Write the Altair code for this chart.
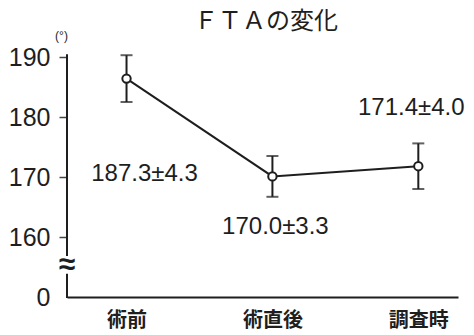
import altair as alt
import pandas as pd

# ---- data ----
categories = ["術前", "術直後", "調査時"]
means = [186.4, 170.1, 171.8]
errs = [3.9, 3.4, 3.8]
labels = ["187.3±4.3", "170.0±3.3", "171.4±4.0"]
y_ticks = [150, 160, 170, 180, 190]
title_text = "ＦＴＡの変化"
unit_text = "(°)"
break_symbol = "≈"
axis_segments_top = [190.3, 157.0]
axis_segments_bottom = [153.7, 150.0]
break_pos = 155.3

df = pd.DataFrame({
    "cat": categories,
    "mean": means,
    "err": errs,
    "label": labels,
})
df["lo"] = df["mean"] - df["err"]
df["hi"] = df["mean"] + df["err"]

INK = "#1e1e1e"
NUM_FONT = "Liberation Sans"
CJK_FONT = "Noto Sans CJK JP"

xscale = alt.Scale(type="point", domain=categories, padding=0.34, align=0.6)
yscale = alt.Scale(domain=[150, 190], nice=False, zero=False)

x_enc = alt.X(
    "cat:N",
    scale=xscale,
    sort=categories,
    axis=alt.Axis(
        title=None,
        labelAngle=0,
        labelFont=CJK_FONT,
        labelFontSize=20,
        labelFontWeight="bold",
        labelColor=INK,
        labelPadding=13,
        ticks=False,
        domain=True,
        domainColor=INK,
        domainWidth=2,
        grid=False,
    ),
)

y_axis = alt.Axis(
    values=y_ticks,
    labelExpr="datum.value == 150 ? '0' : datum.label",
    labelFont=NUM_FONT,
    labelFontSize=25,
    labelColor=INK,
    labelPadding=9,
    tickSize=8,
    tickWidth=1.5,
    tickColor="#444444",
    tickOpacity={"condition": {"test": "datum.value == 150", "value": 0}, "value": 1},
    domain=False,
    grid=False,
    title=unit_text,
    titleAngle=0,
    titleFont=NUM_FONT,
    titleFontSize=12,
    titleFontWeight="normal",
    titleColor=INK,
    titleAlign="center",
    titleBaseline="middle",
    titleX=-6,
    titleY=-22,
)

base = alt.Chart(df)

line = base.mark_line(color=INK, strokeWidth=2).encode(
    x=x_enc,
    y=alt.Y("mean:Q", scale=yscale, axis=y_axis),
)

err_rule = base.mark_rule(color=INK, strokeWidth=2).encode(
    x=alt.X("cat:N", scale=xscale, sort=categories),
    y=alt.Y("lo:Q", scale=yscale),
    y2="hi:Q",
)

cap_hi = base.mark_tick(color=INK, size=12, thickness=2, orient="horizontal").encode(
    x=alt.X("cat:N", scale=xscale, sort=categories),
    y=alt.Y("hi:Q", scale=yscale),
)
cap_lo = base.mark_tick(color=INK, size=12, thickness=2, orient="horizontal").encode(
    x=alt.X("cat:N", scale=xscale, sort=categories),
    y=alt.Y("lo:Q", scale=yscale),
)

points = base.mark_point(
    shape="circle", filled=True, fill="white", stroke=INK, strokeWidth=2, size=70, opacity=1
).encode(
    x=alt.X("cat:N", scale=xscale, sort=categories),
    y=alt.Y("mean:Q", scale=yscale),
)

label_offsets = [(18, 95), (3, 51), (-7, -58)]
text_layers = []
for cat, (dx, dy) in zip(categories, label_offsets):
    text_layers.append(
        base.transform_filter(alt.datum.cat == cat)
        .mark_text(font=NUM_FONT, fontSize=24, color=INK, dx=dx, dy=dy,
                   align="center", baseline="middle")
        .encode(
            x=alt.X("cat:N", scale=xscale, sort=categories),
            y=alt.Y("mean:Q", scale=yscale),
            text="label:N",
        )
    )

seg_df = pd.DataFrame({
    "y1": [axis_segments_top[0], axis_segments_bottom[0]],
    "y2": [axis_segments_top[1], axis_segments_bottom[1]],
})
axis_line = alt.Chart(seg_df).mark_rule(color=INK, strokeWidth=2, strokeCap="square").encode(
    x=alt.value(0),
    y=alt.Y("y1:Q", scale=yscale),
    y2="y2:Q",
)

brk = alt.Chart(pd.DataFrame({"y": [break_pos], "t": [break_symbol]})).mark_text(
    font=NUM_FONT, fontSize=30, fontWeight="bold", color=INK, align="center", baseline="middle"
).encode(
    x=alt.value(0),
    y=alt.Y("y:Q", scale=yscale),
    text="t:N",
)

title = alt.Chart(pd.DataFrame({"t": [title_text]})).mark_text(
    font=CJK_FONT, fontSize=24, color=INK, align="center", baseline="middle"
).encode(
    x=alt.value(199),
    y=alt.value(-35),
    text="t:N",
)

chart = alt.layer(
    line, err_rule, cap_hi, cap_lo, points, *text_layers, axis_line, brk, title
).properties(
    width=391,
    height=240,
    autosize=alt.AutoSizeParams(type="none"),
    padding={"left": 67, "top": 57, "right": 16, "bottom": 38},
    background="white",
).configure_view(stroke=None)

chart.save("out.html", embed_options={"renderer": "svg", "actions": False})
